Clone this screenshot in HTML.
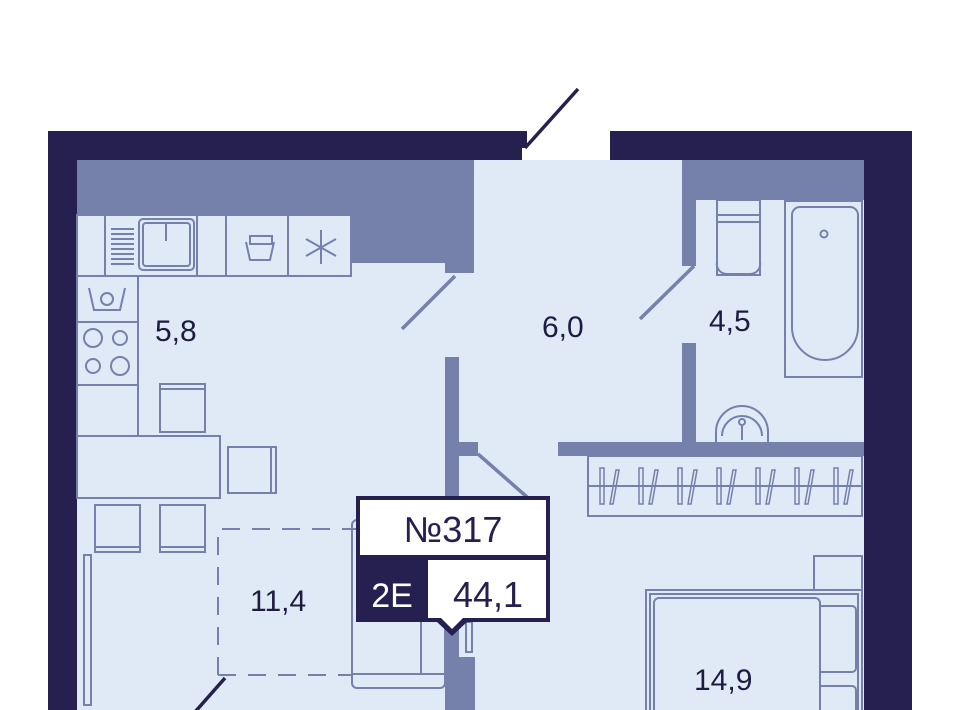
<!DOCTYPE html>
<html><head><meta charset="utf-8"><style>
html,body{margin:0;padding:0;background:#fff;width:960px;height:710px;overflow:hidden}
text{font-family:"Liberation Sans",sans-serif}
</style></head><body>
<svg width="960" height="710" viewBox="0 0 960 710" xmlns="http://www.w3.org/2000/svg">
<!-- interior -->
<rect x="77" y="160" width="787" height="560" fill="#dfeaf6"/>
<!-- outer walls -->
<g fill="#252050">
<rect x="48" y="131" width="474" height="29"/>
<rect x="610" y="131" width="302" height="29"/>
<rect x="520" y="131" width="7" height="17"/>
<rect x="48" y="131" width="29" height="590"/>
<rect x="864" y="131" width="48" height="590"/>
</g>
<line x1="525" y1="148" x2="578" y2="89" stroke="#252050" stroke-width="3.5"/>
<!-- gray walls -->
<g fill="#7580ab">
<rect x="77" y="160" width="397" height="55"/>
<rect x="350" y="160" width="124" height="103"/>
<rect x="445" y="160" width="29" height="113"/>
<rect x="445" y="357" width="14" height="360"/>
<rect x="445" y="442" width="33" height="14"/>
<rect x="445" y="657" width="30" height="60"/>
<rect x="682" y="160" width="182" height="40"/>
<rect x="682" y="160" width="14" height="106"/>
<rect x="682" y="343" width="14" height="100"/>
<rect x="558" y="442" width="306" height="14"/>
</g>
<!-- doors -->
<g stroke="#7580ab" stroke-width="3.5">
<line x1="455" y1="276" x2="402" y2="329"/>
<line x1="694" y1="266" x2="640" y2="319"/>
<line x1="478" y1="454" x2="527" y2="497"/>
</g>
<line x1="225" y1="678" x2="195" y2="712" stroke="#252050" stroke-width="3.5"/>
<!-- furniture -->
<g fill="none" stroke="#7580ab" stroke-width="2">
<rect x="77" y="215" width="274" height="61"/>
<line x1="105" y1="215" x2="105" y2="276"/>
<line x1="197" y1="215" x2="197" y2="276"/>
<line x1="226" y1="215" x2="226" y2="276"/>
<line x1="288" y1="215" x2="288" y2="276"/>
<rect x="139" y="219" width="55" height="51" rx="4"/>
<rect x="143" y="223" width="47" height="43" rx="3"/>
<line x1="166" y1="223" x2="166" y2="241"/>
<line x1="111" y1="229" x2="134" y2="229"/><line x1="111" y1="234" x2="134" y2="234"/><line x1="111" y1="239" x2="134" y2="239"/><line x1="111" y1="244" x2="134" y2="244"/><line x1="111" y1="249" x2="134" y2="249"/><line x1="111" y1="254" x2="134" y2="254"/><line x1="111" y1="259" x2="134" y2="259"/><line x1="111" y1="264" x2="134" y2="264"/>
<path d="M246 242 l4 18 h20 l4 -18 M250 236 h22 v8 h-22z"/>
<path d="M321 230 v34 M306 239 l30 17 M306 256 l30 -17"/>
<rect x="77" y="276" width="61" height="160"/>
<line x1="77" y1="322" x2="138" y2="322"/>
<line x1="77" y1="385" x2="138" y2="385"/>
<path d="M89 288 l5 22 h26 l5 -22"/>
<circle cx="107" cy="299" r="6"/>
<circle cx="93" cy="338" r="9"/><circle cx="120" cy="338" r="7"/>
<circle cx="93" cy="366" r="7"/><circle cx="120" cy="366" r="9"/>
<rect x="160" y="384" width="45" height="48"/><line x1="160" y1="389" x2="205" y2="389"/>
<rect x="77" y="436" width="143" height="62"/>
<rect x="228" y="447" width="48" height="46"/><line x1="271" y1="447" x2="271" y2="493"/>
<rect x="95" y="505" width="45" height="47"/><line x1="95" y1="547" x2="140" y2="547"/>
<rect x="160" y="505" width="45" height="47"/><line x1="160" y1="547" x2="205" y2="547"/>
<rect x="84" y="555" width="7" height="150"/>
<rect x="352" y="520" width="93" height="168" rx="5"/>
<line x1="421" y1="600" x2="421" y2="674"/>
<line x1="352" y1="674" x2="445" y2="674"/>
<rect x="466" y="622" width="6" height="30"/>
<rect x="717" y="200" width="43" height="75"/>
<line x1="717" y1="215" x2="760" y2="215"/>
<path d="M717 222 h43 v40 a10 10 0 0 1 -10 12 h-23 a10 10 0 0 1 -10 -12z"/>
<rect x="785" y="201" width="77" height="176"/>
<path d="M792 215 a8 8 0 0 1 8 -8 h50 a8 8 0 0 1 8 8 v112 a33 33 0 0 1 -66 0z"/>
<circle cx="824" cy="234" r="3.5"/>
<path d="M716 442 v-10 a26 26 0 0 1 52 0 v10"/>
<path d="M722 436 a20 20 0 1 1 40 0" />
<circle cx="742" cy="422" r="3"/><line x1="742" y1="426" x2="742" y2="440"/>
<rect x="588" y="456" width="274" height="60"/>
<line x1="588" y1="486" x2="862" y2="486"/>
<rect x="814" y="556" width="48" height="34"/>
<rect x="646" y="590" width="216" height="130"/>
<rect x="650" y="594" width="208" height="126"/>
<rect x="654" y="598" width="166" height="120" rx="5"/>
<path d="M820 606 h32 a4 4 0 0 1 4 4 v58 a4 4 0 0 1 -4 4 h-32"/>
<path d="M820 686 h32 a4 4 0 0 1 4 4 v30"/>
</g>
<g fill="none" stroke="#7580ab" stroke-width="1.5">
<path d="M600 468 v36 h4 v-36z M616 470 l-6 34 h3 l6 -34z"/>
<path d="M639 468 v36 h4 v-36z M655 470 l-6 34 h3 l6 -34z"/>
<path d="M678 468 v36 h4 v-36z M694 470 l-6 34 h3 l6 -34z"/>
<path d="M717 468 v36 h4 v-36z M733 470 l-6 34 h3 l6 -34z"/>
<path d="M756 468 v36 h4 v-36z M772 470 l-6 34 h3 l6 -34z"/>
<path d="M795 468 v36 h4 v-36z M811 470 l-6 34 h3 l6 -34z"/>
<path d="M834 468 v36 h4 v-36z M850 470 l-6 34 h3 l6 -34z"/>
</g>
<path d="M218 675 V529 H356 M218 675 H352" fill="none" stroke="#7580ab" stroke-width="2" stroke-dasharray="18 12"/>
<!-- labels -->
<g fill="#1e1b40" font-size="30">
<text x="155" y="341">5,8</text>
<text x="542" y="337">6,0</text>
<text x="709" y="331">4,5</text>
<text x="250" y="611">11,4</text>
<text x="694" y="690">14,9</text>
</g>
<!-- info box -->
<rect x="356" y="496" width="194" height="126" fill="#252050"/>
<rect x="360" y="500" width="186" height="55" fill="#fff"/>
<rect x="428" y="560" width="118" height="58" fill="#fff"/>
<path d="M437 622 L452 636 L467 622 Z" fill="#252050"/>
<path d="M440 617 L452 629 L464 617 Z" fill="#fff"/>
<text x="453" y="542" font-size="36" fill="#252050" text-anchor="middle">№317</text>
<text x="392" y="607" font-size="34" fill="#fff" text-anchor="middle">2E</text>
<text x="488" y="607" font-size="36" fill="#252050" text-anchor="middle">44,1</text>
</svg>
</body></html>
